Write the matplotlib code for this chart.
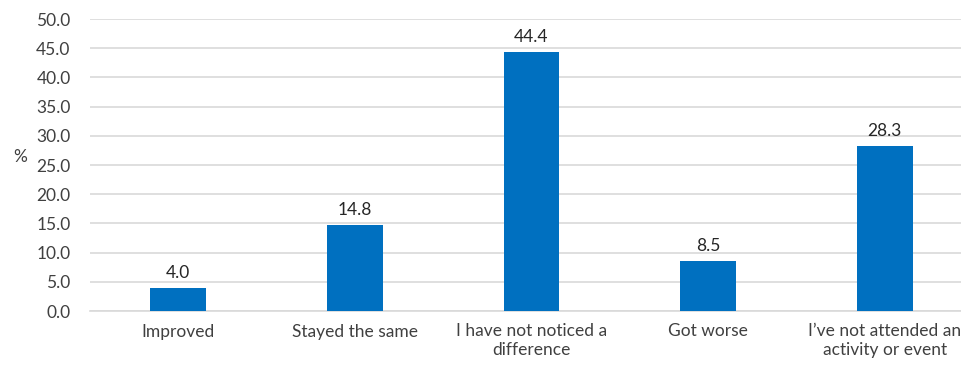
import matplotlib
matplotlib.use("Agg")
import matplotlib.pyplot as plt
import numpy as np

categories = ["Improved", "Stayed the same", "I have not noticed a\ndifference",
              "Got worse", "I\u2019ve not attended an\nactivity or event"]
values = [4.0, 14.8, 44.4, 8.5, 28.3]
yticks = [0, 5, 10, 15, 20, 25, 30, 35, 40, 45, 50]

BAR_COLOR = "#0070C0"
GRID_COLOR = "#D9D9D9"
TEXT_COLOR = "#404040"
FS = 12.5

plt.rcParams["font.family"] = ["Lato", "DejaVu Sans"]

fig = plt.figure(figsize=(9.62, 3.65), dpi=100)
# plot area runs past the right edge, as in the cropped original
ax = fig.add_axes([90 / 962, 1 - 311 / 365, 883 / 962, 292 / 365])

x = np.arange(len(categories))
ax.bar(x, values, width=0.317, color=BAR_COLOR, zorder=3)

for xi, v in zip(x, values):
    ax.annotate(f"{v:.1f}", (xi, v), xytext=(0, 5), textcoords="offset points",
                ha="center", va="bottom", fontsize=FS, color="#262626")

ax.set_xlim(-0.5, len(categories) - 0.5)
ax.set_ylim(0, 50)
ax.set_yticks(yticks)
ax.set_yticklabels([f"{t:.1f}" for t in yticks], fontsize=FS, color=TEXT_COLOR)
ax.set_xticks(x)
ax.set_xticklabels(categories, fontsize=FS, color=TEXT_COLOR, linespacing=1.2)
ax.tick_params(axis="y", length=0, pad=14)
ax.tick_params(axis="x", length=0, pad=9)
ax.grid(axis="y", color=GRID_COLOR, linewidth=1.2, zorder=0)
for side in ["top", "right", "left"]:
    ax.spines[side].set_visible(False)
ax.spines["bottom"].set_color(GRID_COLOR)
ax.spines["bottom"].set_linewidth(1.2)

fig.text(20 / 962, 1 - 157 / 365, "%", fontsize=FS, color=TEXT_COLOR,
         ha="center", va="center")

fig.savefig("out.png", dpi=100)
